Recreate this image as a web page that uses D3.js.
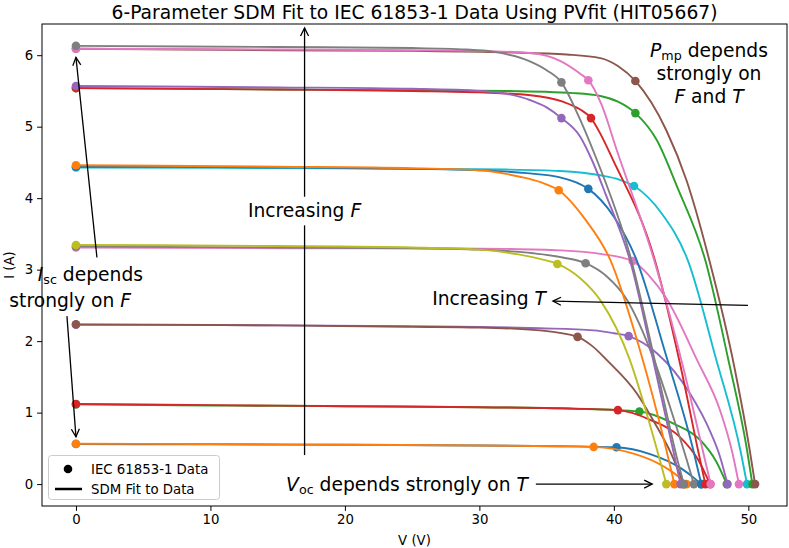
<!DOCTYPE html>
<html><head><meta charset="utf-8">
<script src="https://cdn.jsdelivr.net/npm/d3@7"></script>
<style>
body{margin:0;background:#fff}
svg{display:block}
text{font-family:"DejaVu Sans",sans-serif;fill:#000}
</style>
</head><body>
<svg id="chart" width="789" height="548"></svg>
<script>
// ---------- DATA ----------
const chartTitle = "6-Parameter SDM Fit to IEC 61853-1 Data Using PVfit (HIT05667)";
const xTicks = [0, 10, 20, 30, 40, 50];
const yTicks = [0, 1, 2, 3, 4, 5, 6];
const tab10 = ["#1f77b4","#ff7f0e","#2ca02c","#d62728","#9467bd","#8c564b","#e377c2","#7f7f7f","#bcbd22","#17becf"];

// IEC 61853-1 measured points (one entry per curve)
const iscMeas = [0.56, 0.565, 1.115, 1.12, 2.23, 2.235, 3.31, 3.325, 3.345, 4.43, 4.44, 4.46, 5.54, 5.54, 5.57, 6.09, 6.09, 6.13];
const vmpMeas = [40.2, 38.5, 41.9, 40.3, 41.1, 37.3, 41.4, 37.9, 35.8, 41.5, 38.1, 35.9, 41.6, 38.3, 36.1, 41.6, 38.1, 36.1];
const impMeas = [0.515, 0.52, 1.015, 1.035, 2.07, 2.06, 3.12, 3.09, 3.08, 4.17, 4.13, 4.11, 5.19, 5.12, 5.12, 5.64, 5.65, 5.62];
const vocMeas = [46.5, 45.4, 48.4, 47.15, 48.45, 45.2, 49.3, 45.95, 43.9, 49.9, 46.5, 44.5, 50.3, 46.8, 44.96, 50.5, 47.2, 45.2];

// SDM fit curves, [V, I] pairs
const sdmFit = [
  [[0,0.56],[10,0.555],[20,0.55],[30,0.54],[36,0.53],[40.2,0.515],[42.7,0.42],[45.0,0.22],[46.0,0.08],[46.5,0]],
  [[0,0.565],[10,0.56],[20,0.55],[30,0.54],[36,0.53],[38.5,0.52],[41.4,0.43],[43.4,0.28],[44.7,0.12],[45.4,0]],
  [[0,1.115],[10,1.10],[20,1.09],[30,1.075],[37,1.055],[41.9,1.015],[44.4,0.85],[46.4,0.62],[47.6,0.32],[48.4,0]],
  [[0,1.12],[10,1.105],[20,1.09],[30,1.075],[36,1.06],[40.3,1.035],[42.7,0.9],[44.9,0.66],[46.3,0.33],[47.15,0]],
  [[0,2.23],[15,2.22],[25,2.21],[30,2.2],[34.5,2.18],[38.5,2.15],[40,2.11],[41.1,2.07],[43.2,1.83],[45.65,1.27],[47.2,0.72],[47.9,0.38],[48.45,0]],
  [[0,2.235],[15,2.22],[25,2.2],[30,2.19],[34.5,2.15],[37.3,2.06],[38.4,1.93],[39.5,1.73],[41.7,1.27],[42.9,0.9],[44.2,0.45],[45.2,0]],
  [[0,3.31],[15,3.30],[25,3.30],[32,3.29],[36,3.27],[39,3.22],[41.4,3.12],[42.6,2.92],[43.9,2.6],[46.2,1.73],[47.9,1.03],[48.8,0.45],[49.3,0]],
  [[0,3.325],[15,3.31],[25,3.30],[30,3.28],[34,3.23],[36.2,3.17],[37.9,3.09],[39.5,2.9],[40.9,2.6],[43,1.73],[44.4,0.95],[45.4,0.35],[45.95,0]],
  [[0,3.345],[15,3.33],[25,3.31],[30,3.28],[33,3.21],[34.5,3.15],[35.8,3.08],[37.5,2.88],[39,2.57],[41.2,1.73],[42.5,0.95],[43.4,0.35],[43.9,0]],
  [[0,4.43],[15,4.42],[25,4.41],[32,4.40],[36,4.38],[39,4.32],[40.4,4.26],[41.5,4.17],[43.5,3.8],[45.5,3.13],[47.6,1.75],[49.4,0.48],[49.9,0]],
  [[0,4.44],[15,4.43],[25,4.41],[30,4.39],[33.5,4.35],[36,4.29],[37.2,4.22],[38.1,4.13],[40,3.74],[41.7,3.13],[43.8,1.85],[45.9,0.48],[46.5,0]],
  [[0,4.46],[15,4.44],[25,4.42],[30,4.39],[33,4.3],[34.6,4.22],[35.9,4.11],[37.8,3.72],[39.75,3.13],[41.9,1.9],[43.9,0.48],[44.5,0]],
  [[0,5.54],[15,5.52],[25,5.51],[32,5.5],[37,5.47],[39,5.43],[40.3,5.35],[41.6,5.19],[43.2,4.81],[44.7,4.16],[46.8,3.13],[48.5,1.75],[49.9,0.48],[50.3,0]],
  [[0,5.54],[15,5.52],[25,5.5],[30,5.48],[33.8,5.44],[36.2,5.35],[37.5,5.24],[38.3,5.12],[39.0,4.9],[39.9,4.55],[43.05,3.13],[44.9,1.7],[46.25,0.48],[46.8,0]],
  [[0,5.57],[15,5.55],[25,5.53],[30,5.5],[32,5.46],[33.8,5.37],[35,5.27],[36.1,5.12],[37.5,4.86],[38.4,4.52],[39.4,4.05],[41.2,3.13],[43,1.67],[44.4,0.48],[44.96,0]],
  [[0,6.09],[15,6.07],[25,6.06],[32,6.04],[36.5,6.01],[39,5.96],[40.3,5.85],[41.6,5.64],[43.9,4.95],[45.4,4.25],[47.1,3.13],[49,1.6],[50.1,0.48],[50.5,0]],
  [[0,6.09],[15,6.08],[25,6.07],[30,6.06],[33.8,6.03],[36,5.92],[37.5,5.74],[38.1,5.65],[39.1,5.3],[40.2,4.68],[43,3.13],[45.2,1.6],[46.6,0.48],[47.2,0]],
  [[0,6.13],[15,6.115],[25,6.10],[29,6.08],[31,6.05],[33.8,5.91],[35,5.79],[36.1,5.62],[37.3,5.18],[38.6,4.6],[41.2,3.2],[43.2,1.6],[44.75,0.32],[45.2,0]]
];
const legendLabels = ["IEC 61853-1 Data", "SDM Fit to Data"];

// ---------- CHART ----------
const svg = d3.select("#chart");
const L = 42, R = 787, T = 24, B = 506;
const x = d3.scaleLinear().domain([-2.525, 52.875]).range([L, R]);
const y = d3.scaleLinear().domain([-0.3065, 6.4365]).range([B, T]);

svg.append("rect").attr("width",789).attr("height",548).attr("fill","#fff");

const line = d3.line().x(d => x(d[0])).y(d => y(d[1])).curve(d3.curveMonotoneX);
const plot = svg.append("g");
sdmFit.forEach((pts, i) => {
  const c = tab10[i % 10];
  plot.append("path").datum(pts).attr("d", line)
    .attr("fill","none").attr("stroke", c).attr("stroke-width", 1.9).attr("stroke-linejoin","round");
  const meas = [[0, iscMeas[i]], [vmpMeas[i], impMeas[i]], [vocMeas[i], 0]];
  plot.selectAll(null).data(meas).enter().append("circle")
    .attr("cx", d => x(d[0])).attr("cy", d => y(d[1])).attr("r", 4.3).attr("fill", c);
});

// axes
const fs = 13.3;
const xAxis = svg.append("g").attr("transform",`translate(0,${B})`)
  .call(d3.axisBottom(x).tickValues(xTicks).tickSize(4.9).tickPadding(4).tickFormat(d3.format("d")));
const yAxis = svg.append("g").attr("transform",`translate(${L},0)`)
  .call(d3.axisLeft(y).tickValues(yTicks).tickSize(4.9).tickPadding(4).tickFormat(d3.format("d")));
[xAxis, yAxis].forEach(a => {
  a.select(".domain").remove();
  a.selectAll("line").attr("stroke","#000").attr("stroke-width",1);
  a.selectAll("text").attr("font-size", fs).attr("font-family","DejaVu Sans").attr("fill","#000");
});
svg.append("rect").attr("x",L).attr("y",T).attr("width",R-L).attr("height",B-T)
  .attr("fill","none").attr("stroke","#000").attr("stroke-width",1);

svg.append("text").attr("x",(L+R)/2).attr("y",545).attr("text-anchor","middle").attr("font-size",fs).text("V (V)");
svg.append("text").attr("transform","translate(14,265) rotate(-90)").attr("text-anchor","middle").attr("font-size",fs).text("I (A)");
svg.append("text").attr("x",(L+R)/2).attr("y",19).attr("text-anchor","middle").attr("font-size",18.7).text(chartTitle);

// annotations
function arrow(v1, i1, v2, i2, head) {
  const x1 = x(v1), y1 = y(i1), x2 = x(v2), y2 = y(i2);
  const g = svg.append("g").attr("stroke","#000").attr("stroke-width",1.3).attr("fill","none");
  g.append("line").attr("x1",x1).attr("y1",y1).attr("x2",x2).attr("y2",y2);
  if (head) {
    const a = Math.atan2(y2-y1, x2-x1), Lh = 8, W = 4;
    const p1 = [x2 - Lh*Math.cos(a) + W*Math.sin(a), y2 - Lh*Math.sin(a) - W*Math.cos(a)];
    const p2 = [x2 - Lh*Math.cos(a) - W*Math.sin(a), y2 - Lh*Math.sin(a) + W*Math.cos(a)];
    g.append("path").attr("d",`M${p1[0]},${p1[1]}L${x2},${y2}L${p2[0]},${p2[1]}`);
  }
}
const afs = 18.7;
// multi-line rich text as one <text>: lines = [{x, y, parts}]
function richBlock(lines, anchor) {
  const t = svg.append("text").attr("font-size",afs).attr("text-anchor",anchor||"middle");
  lines.forEach(ln => {
    ln.parts.forEach((p, k) => {
      const s = t.append("tspan").text(p.t);
      if (k === 0) s.attr("x", ln.x).attr("y", ln.y);
      if (p.i) s.attr("font-style","italic");
      if (p.sub) s.attr("font-size",afs*0.68).attr("dy",3);
      if (p.up) s.attr("dy",-3);
    });
  });
  return t;
}
// Increasing F
arrow(17.0, 0.406, 17.0, 3.62, false);
arrow(17.0, 4.02, 17.0, 6.38, true);
richBlock([{x:x(17.0), y:217, parts:[{t:"Increasing "},{t:"F",i:true}]}]);
// Increasing T
arrow(49.97, 2.50, 35.47, 2.56, true);
richBlock([{x:546, y:305, parts:[{t:"Increasing "},{t:"T",i:true}]}], "end");
// Isc
richBlock([
  {x:143, y:281, parts:[{t:"I",i:true},{t:"sc",sub:true},{t:" depends",up:true}]},
  {x:131, y:307, parts:[{t:"strongly on "},{t:"F",i:true}]}
], "end");
arrow(1.56, 3.17, 0.0, 5.97, true);
arrow(-0.67, 2.35, 0.0, 0.66, true);
// Pmp
richBlock([
  {x:709, y:57, parts:[{t:"P",i:true},{t:"mp",sub:true},{t:" depends",up:true}]},
  {x:709, y:80, parts:[{t:"strongly on"}]},
  {x:709, y:103, parts:[{t:"F",i:true},{t:" and "},{t:"T",i:true}]}
]);
// Voc
richBlock([{x:528, y:491, parts:[{t:"V",i:true},{t:"oc",sub:true},{t:" depends strongly on ",up:true},{t:"T",i:true}]}], "end");
arrow(34.2, 0.0, 42.85, 0.0, true);

// legend
const lg = svg.append("g");
lg.append("rect").attr("x",48.5).attr("y",455.5).attr("width",171).attr("height",44).attr("rx",3)
  .attr("fill","#fff").attr("fill-opacity",0.8).attr("stroke","#cccccc").attr("stroke-width",1);
lg.append("circle").attr("cx",68).attr("cy",469).attr("r",4.3).attr("fill","#000");
lg.append("line").attr("x1",55).attr("x2",82).attr("y1",489).attr("y2",489).attr("stroke","#000").attr("stroke-width",2.5);
legendLabels.forEach((t,k) => {
  lg.append("text").attr("x",91).attr("y",474 + k*20).attr("font-size",fs).text(t);
});
</script>
</body></html>
